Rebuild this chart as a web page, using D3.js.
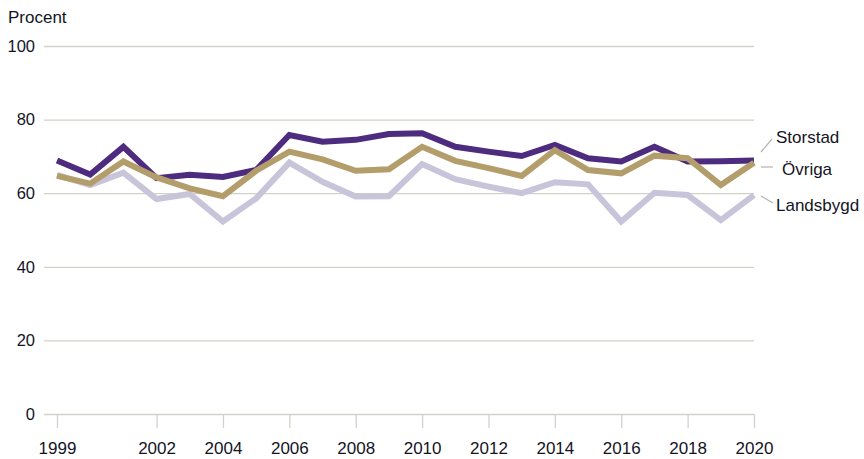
<!DOCTYPE html>
<html>
<head>
<meta charset="utf-8">
<script src="https://cdn.jsdelivr.net/npm/d3@7"></script>
<style>
  html, body { margin: 0; padding: 0; background: #fff; }
  svg { display: block; font-family: "Liberation Sans", Arial, Helvetica, sans-serif; }
</style>
</head>
<body>
<svg id="chart" width="864" height="459"></svg>
<script>
// Years on the x axis
const years = [1999, 2000, 2001, 2002, 2003, 2004, 2005, 2006, 2007, 2008, 2009,
               2010, 2011, 2012, 2013, 2014, 2015, 2016, 2017, 2018, 2019, 2020];

// Share (percent) per area type
const storstad   = [68.9, 65.1, 72.6, 64.1, 65.0, 64.4, 66.3, 75.8, 74.0, 74.5, 76.1,
                    76.3, 72.6, 71.3, 70.1, 73.1, 69.5, 68.6, 72.6, 68.6, 68.7, 68.9];
const ovriga     = [64.7, 62.6, 68.6, 64.3, 61.3, 59.2, 66.1, 71.3, 69.2, 66.1, 66.5,
                    72.6, 68.8, 66.8, 64.7, 71.7, 66.3, 65.4, 70.2, 69.5, 62.2, 68.3];
const landsbygd  = [65.0, 62.2, 65.6, 58.4, 59.8, 52.3, 58.6, 68.3, 63.1, 59.1, 59.2,
                    67.9, 63.8, 61.8, 60.0, 63.0, 62.4, 52.3, 60.1, 59.5, 52.7, 59.5];

const seriesNames = ["Landsbygd", "Storstad", "Övriga"];
const yTicks = [0, 20, 40, 60, 80, 100];
const xTicks = [1999, 2002, 2004, 2006, 2008, 2010, 2012, 2014, 2016, 2018, 2020];
const yTitle = "Procent";

const colors = { "Storstad": "#4d2c7f", "Övriga": "#b39d6a", "Landsbygd": "#c8c4da" };
const values = { "Storstad": storstad, "Övriga": ovriga, "Landsbygd": landsbygd };

const svg = d3.select("#chart");
const plotLeft = 57, plotRight = 754, plotTop = 46, plotBottom = 414;

const x = d3.scaleLinear().domain([1999, 2020]).range([plotLeft, plotRight]);
const y = d3.scaleLinear().domain([0, 100]).range([plotBottom, plotTop]);

const gridColor = "#d3d1ca";
const textColor = "#14141f";

// Horizontal gridlines with value labels
const yAxis = svg.append("g")
  .attr("transform", `translate(${plotRight},0)`)
  .call(d3.axisLeft(y).tickValues(yTicks).tickSize(plotRight - 44).tickPadding(9).tickFormat(d3.format("d")));
yAxis.select(".domain").remove();
yAxis.selectAll(".tick line").attr("stroke", gridColor).attr("stroke-width", 1.3);
yAxis.selectAll(".tick text")
  .attr("fill", textColor)
  .style("font-size", "16.5px");
yAxis.attr("font-family", null).attr("font-size", null);

// Year axis with short ticks below the baseline
const xAxis = svg.append("g")
  .attr("transform", `translate(0,${plotBottom})`)
  .call(d3.axisBottom(x).tickValues(xTicks).tickSize(14).tickPadding(14).tickFormat(d3.format("d")));
xAxis.select(".domain").remove();
xAxis.selectAll(".tick line").attr("stroke", gridColor).attr("stroke-width", 1.3);
xAxis.selectAll(".tick text")
  .attr("fill", textColor)
  .style("font-size", "17px");
xAxis.attr("font-family", null).attr("font-size", null);

// Axis title
svg.append("text")
  .attr("x", 8).attr("y", 23)
  .attr("fill", textColor)
  .style("font-size", "17px")
  .text(yTitle);

// Series lines
const line = d3.line()
  .x((d, i) => x(years[i]))
  .y(d => y(d))
  .curve(d3.curveLinear);

seriesNames.forEach(name => {
  svg.append("path")
    .datum(values[name])
    .attr("fill", "none")
    .attr("stroke", colors[name])
    .attr("stroke-width", 6)
    .attr("stroke-linejoin", "miter")
    .attr("stroke-linecap", "butt")
    .attr("d", line);
});

// Direct labels with leader lines
const labels = [
  { name: "Storstad",  tx: 776, ty: 143, l: [[761, 152], [772, 139]] },
  { name: "Övriga",    tx: 782, ty: 175, l: [[761, 167], [773, 167]] },
  { name: "Landsbygd", tx: 776, ty: 211, l: [[761, 196], [773, 203]] }
];
labels.forEach(lb => {
  svg.append("line")
    .attr("x1", lb.l[0][0]).attr("y1", lb.l[0][1])
    .attr("x2", lb.l[1][0]).attr("y2", lb.l[1][1])
    .attr("stroke", "#b5b3ad").attr("stroke-width", 1.2);
  svg.append("text")
    .attr("x", lb.tx).attr("y", lb.ty)
    .attr("fill", textColor)
    .style("font-size", "17px")
    .text(lb.name);
});
</script>
</body>
</html>
